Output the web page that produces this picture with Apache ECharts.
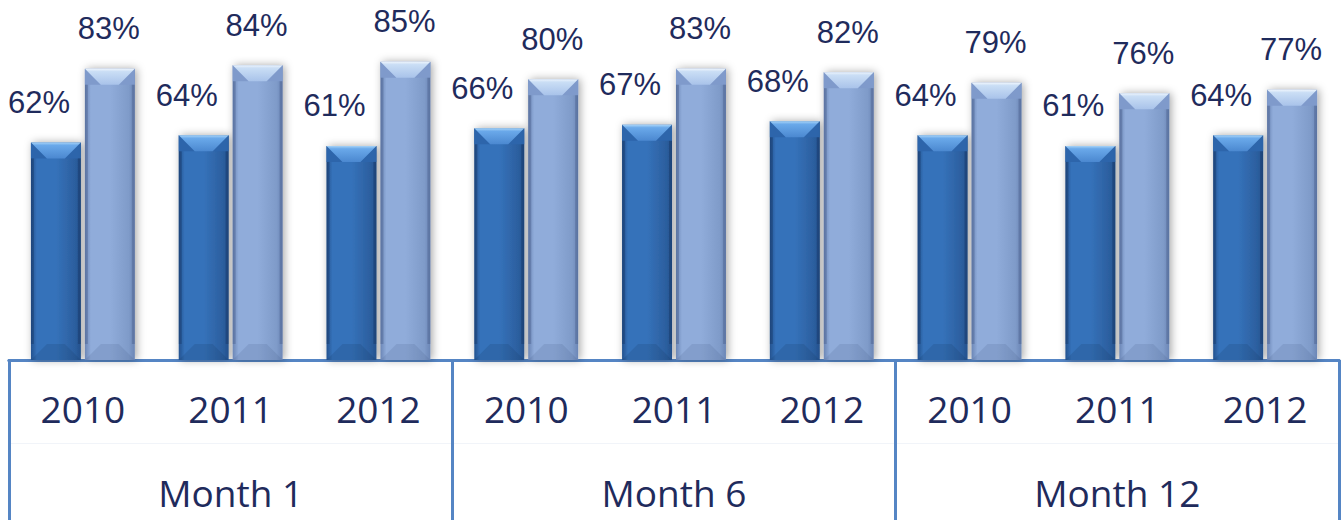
<!DOCTYPE html>
<html>
<head>
<meta charset="utf-8">
<script src="https://cdn.jsdelivr.net/npm/echarts@6/dist/echarts.min.js"></script>
<style>
  html, body { margin: 0; padding: 0; background: #ffffff; }
  #chart { width: 1343px; height: 520px; }
</style>
</head>
<body>
<div id="chart"></div>
<script>
// Two-level category axis: year within month
const years = ['2010', '2011', '2012', '2010', '2011', '2012', '2010', '2011', '2012'];
const months = ['Month 1', 'Month 6', 'Month 12'];

// Percentages per year/month slot
const seriesA = [62, 64, 61, 66, 67, 68, 64, 61, 64];
const seriesB = [83, 84, 85, 80, 83, 82, 79, 76, 77];

const TEXT_COLOR = '#1f2b5c';
const AXIS_COLOR = '#5585c4';

// Palettes for the bevelled bars
const styles = {
  dark: {
    edge: '#24528f', mid: '#3572ba', body2: '#2c5f9f',
    capTop: '#a8d4f8', capMid: '#6aa9ea', capBottom: '#4b88d0',
    corner: '#2d65ab', base: 'rgba(20,50,90,0.16)',
    side: 'rgba(15,40,80,0.30)', labelShift: -17
  },
  light: {
    edge: '#6b86b6', mid: '#90acda', body2: '#7f9bc9',
    capTop: '#eef5fd', capMid: '#cadef5', capBottom: '#a9c3ea',
    corner: '#7f9acb', base: 'rgba(60,80,120,0.14)',
    side: 'rgba(50,70,110,0.28)', labelShift: -1
  }
};

function makeRenderer(style, dir) {
  return function (params, api) {
    const idx = api.value(0);
    const val = api.value(1);
    const top = api.coord([idx, val]);
    const bottom = api.coord([idx, 0]);
    const band = api.size([1, 0])[0];
    const w = band * 0.338;
    const gap = band * 0.027;
    const cx = top[0] + dir * (w + gap) / 2;
    const x0 = cx - w / 2, x1 = cx + w / 2;
    const y0 = top[1], yb = bottom[1];
    const h = yb - y0;
    const bev = Math.min(16, h / 3);
    const side = 3;
    return {
      type: 'group',
      children: [
        {
          type: 'rect',
          shape: { x: x0, y: y0, width: w, height: h },
          style: {
            fill: {
              type: 'linear', x: 0, y: 0, x2: 1, y2: 0,
              colorStops: [
                { offset: 0, color: style.edge },
                { offset: 0.12, color: style.mid },
                { offset: 0.5, color: style.mid },
                { offset: 0.88, color: style.body2 },
                { offset: 1, color: style.edge }
              ]
            },
            shadowBlur: 8,
            shadowOffsetX: 2,
            shadowOffsetY: 0,
            shadowColor: 'rgba(0,0,0,0.35)'
          }
        },
        // darker corner triangles beside the top facet
        {
          type: 'polygon',
          shape: { points: [[x0, y0], [x0 + bev, y0 + bev], [x0, y0 + bev]] },
          style: { fill: style.corner }
        },
        {
          type: 'polygon',
          shape: { points: [[x1, y0], [x1 - bev, y0 + bev], [x1, y0 + bev]] },
          style: { fill: style.corner }
        },
        // bright top facet
        {
          type: 'polygon',
          shape: { points: [[x0, y0], [x1, y0], [x1 - bev, y0 + bev], [x0 + bev, y0 + bev]] },
          style: {
            fill: {
              type: 'linear', x: 0, y: 0, x2: 0, y2: 1,
              colorStops: [
                { offset: 0, color: style.capTop },
                { offset: 0.18, color: style.capMid },
                { offset: 1, color: style.capBottom }
              ]
            }
          }
        },
        // soft bottom facet
        {
          type: 'polygon',
          shape: { points: [[x0, yb], [x1, yb], [x1 - bev, yb - bev], [x0 + bev, yb - bev]] },
          style: { fill: style.base }
        },
        {
          type: 'rect',
          shape: { x: x0, y: y0 + bev, width: side, height: h - 2 * bev },
          style: { fill: style.side }
        },
        {
          type: 'rect',
          shape: { x: x1 - side, y: y0 + bev, width: side, height: h - 2 * bev },
          style: { fill: style.side }
        },
        {
          type: 'text',
          x: cx + style.labelShift,
          y: y0 - 40,
          style: {
            text: val + '%',
            fill: TEXT_COLOR,
            font: '31px "Liberation Sans", Arial, sans-serif',
            align: 'center',
            verticalAlign: 'middle'
          }
        }
      ]
    };
  };
}

const chart = echarts.init(document.getElementById('chart'), null, { renderer: 'svg' });

chart.setOption({
  animation: false,
  backgroundColor: '#ffffff',
  grid: { left: 9, right: 4, top: 9, bottom: 160, containLabel: false },
  xAxis: [
    {
      type: 'category',
      data: years,
      position: 'bottom',
      axisLine: { show: true, lineStyle: { color: AXIS_COLOR, width: 3 } },
      axisTick: { show: false },
      axisLabel: {
        interval: 0,
        margin: 30,
        color: TEXT_COLOR,
        fontSize: 37,
        fontFamily: '"Open Sans", sans-serif'
      }
    },
    {
      type: 'category',
      data: months,
      position: 'bottom',
      offset: 0,
      axisLine: { show: true, lineStyle: { color: AXIS_COLOR, width: 3 } },
      axisTick: {
        show: true,
        interval: 0,
        inside: false,
        length: 162,
        lineStyle: { color: AXIS_COLOR, width: 3 }
      },
      axisLabel: {
        interval: 0,
        margin: 114,
        color: TEXT_COLOR,
        fontSize: 37,
        fontFamily: '"Open Sans", sans-serif'
      }
    },
    {
      type: 'category',
      data: months,
      position: 'bottom',
      offset: 83,
      axisLine: { show: true, lineStyle: { color: '#f1f4f9', width: 1 } },
      axisTick: { show: false },
      axisLabel: { show: false }
    }
  ],
  yAxis: {
    type: 'value',
    min: 0,
    max: 100,
    show: false
  },
  series: [
    {
      type: 'custom',
      xAxisIndex: 0,
      renderItem: makeRenderer(styles.dark, -1),
      data: seriesA.map((v, i) => [i, v]),
      encode: { x: 0, y: 1 }
    },
    {
      type: 'custom',
      xAxisIndex: 0,
      renderItem: makeRenderer(styles.light, 1),
      data: seriesB.map((v, i) => [i, v]),
      encode: { x: 0, y: 1 }
    }
  ]
});
</script>
</body>
</html>
